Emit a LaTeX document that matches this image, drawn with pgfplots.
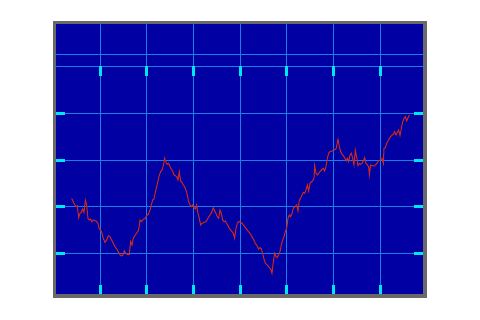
\documentclass[border=0pt]{standalone}
\usepackage{pgfplots}
\pgfplotsset{compat=1.18}
\definecolor{bg}{RGB}{0,0,163}
\definecolor{gridc}{RGB}{25,125,228}
\definecolor{tickc}{RGB}{0,230,255}
\definecolor{framec}{RGB}{105,105,105}
\definecolor{linec}{RGB}{205,40,28}
\begin{document}
\begin{tikzpicture}
\path[use as bounding box] (0pt,0pt) rectangle (480pt,320pt);
\begin{axis}[at={(54.3pt,24pt)}, anchor=south west, scale only axis,
  width=370.7pt, height=273.3pt,
  xmin=-17, xmax=1095, ymin=72, ymax=892,
  axis background/.style={fill=bg},
  axis line style={draw=framec, line width=3.3pt},
  xtick={121,261,401,541,681,821,961}, ytick={200,340,480,620},
  xticklabels={}, yticklabels={},
  grid=major, grid style={gridc, line width=1pt},
  tick align=inside, xtick pos=bottom, ytick pos=both,
  major tick length=11pt,
  tick style={tickc, line width=3pt},
]
\draw[gridc, line width=1pt] (axis cs:-17,761) -- (axis cs:1095,761);
\draw[gridc, line width=1pt] (axis cs:-17,797) -- (axis cs:1095,797);
\pgfplotsinvokeforeach{121,261,401,541,681,821,961}{
  \draw[tickc, line width=3pt] (axis cs:#1,761) -- ([yshift=-9.5pt]axis cs:#1,761);
}
\addplot[linec, line width=1pt, mark=none] coordinates {
(35,365) (42,350) (48,340) (52,343) (56,307) (60,320) (64,323) (68,333) (72,323) (76,360)
(80,345) (84,305) (88,300) (92,303) (96,295) (100,300) (108,297) (114,290) (118,273) (122,270)
(126,260) (130,245) (135,233) (140,240) (145,253) (150,250) (155,240) (160,230) (165,220) (170,213)
(175,205) (180,195) (185,192) (190,197) (193,208) (197,200) (202,197) (208,197) (212,235) (216,225)
(220,245) (226,255) (232,263) (236,270) (240,300) (244,295) (248,300) (252,303) (256,305) (260,313)
(265,317) (270,330) (274,345) (278,360) (282,363) (286,383) (290,400) (294,417) (298,435) (302,445)
(306,450) (310,463) (314,485) (318,473) (322,467) (326,470) (330,460) (334,453) (338,447) (342,435)
(346,433) (350,430) (354,420) (358,445) (362,417) (366,413) (370,405) (374,400) (378,390) (382,375)
(386,355) (390,345) (394,340) (398,345) (402,337) (406,333) (410,345) (414,320) (418,305) (422,285)
(426,290) (432,293) (438,295) (444,305) (450,315) (455,323) (460,337) (464,327) (468,320) (472,310)
(476,305) (480,330) (484,320) (488,300) (492,295) (496,297) (500,290) (504,283) (508,275) (512,270)
(516,265) (520,260) (524,245) (528,275) (532,290) (536,295) (540,295) (546,290) (552,283) (558,275)
(564,267) (570,260) (576,250) (580,243) (586,230) (590,225) (596,213) (600,217) (604,213) (608,200)
(612,183) (616,170) (620,167) (626,160) (632,153) (636,140) (640,175) (644,200) (648,190) (652,187)
(656,197) (660,205) (664,225) (668,240) (672,250) (676,265) (680,275) (684,305) (688,315) (692,310)
(696,320) (700,335) (705,340) (710,345) (714,327) (718,360) (722,365) (726,375) (730,383) (734,380)
(738,390) (742,405) (746,387) (750,410) (754,415) (758,417) (762,425) (764,463) (768,440) (772,435)
(776,440) (780,445) (784,450) (790,455) (794,447) (798,460) (802,485) (806,500) (810,505) (816,507)
(822,510) (828,513) (834,542) (838,520) (842,505) (846,497) (850,493) (854,487) (858,477) (862,485)
(866,475) (870,495) (874,500) (878,485) (882,465) (886,510) (890,490) (894,463) (898,470) (902,467)
(906,470) (910,477) (914,487) (918,470) (922,465) (926,460) (928,435) (932,465) (936,463) (942,462)
(948,467) (954,475) (960,480) (966,485) (970,470) (972,515) (976,517) (980,530) (984,537) (988,545)
(992,550) (996,555) (1000,557) (1004,565) (1008,555) (1012,563) (1016,570) (1020,553) (1024,575) (1028,595)
(1032,605) (1036,610) (1040,597) (1044,607) (1048,615)
};
\end{axis}
\end{tikzpicture}
\end{document}
